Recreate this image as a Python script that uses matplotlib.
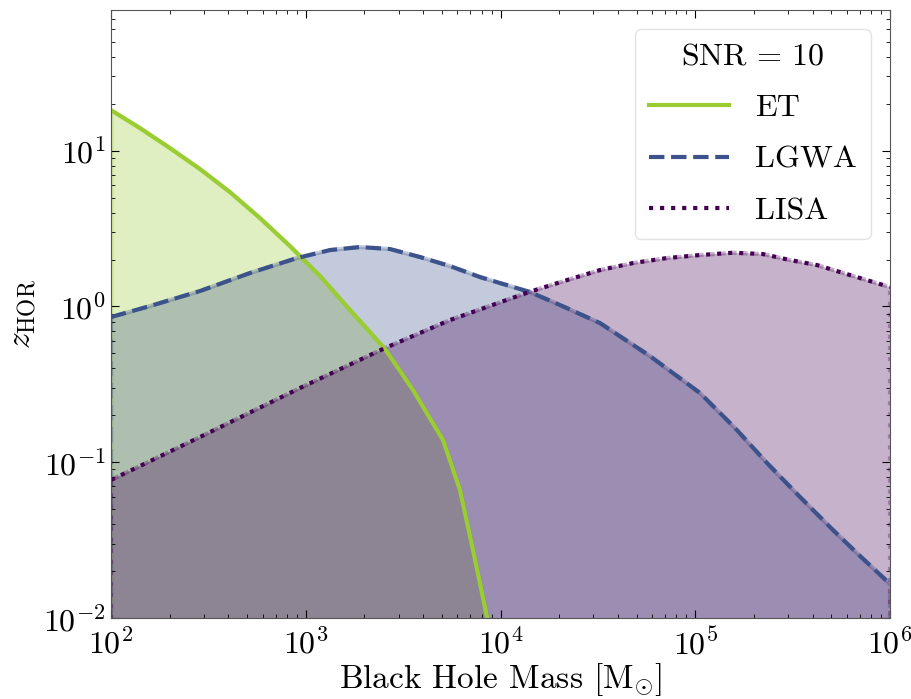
import numpy as np
import matplotlib
matplotlib.use("Agg")
import matplotlib.pyplot as plt

plt.rcParams.update({
    "font.family": "serif",
    "font.serif": ["cmr10"],
    "mathtext.fontset": "cm",
    "axes.formatter.use_mathtext": True,
    "axes.unicode_minus": False,
})

# Horizon redshift at SNR = 10 versus black-hole mass [M_sun]
et_mass = [100, 140.9, 200.9, 286.4, 408.3, 582.3, 830, 1184, 1688, 2553,
           3554, 5068, 6194, 7225, 8525, 8830]
et_z = [18.22, 13.96, 10.39, 7.62, 5.42, 3.69, 2.44, 1.567, 0.948, 0.533,
        0.2906, 0.1388, 0.0663, 0.0273, 0.01015, 0.008]

lgwa_mass = [100, 158.6, 286.4, 517.3, 902, 1332, 1899, 2708, 3860, 5505,
             7849, 14170, 20210, 32430, 58560, 105800, 160000, 233600,
             345000, 509700, 701500, 1000000]
lgwa_z = [0.855, 1.006, 1.256, 1.639, 2.045, 2.301, 2.406, 2.336, 2.076, 1.816,
          1.544, 1.237, 1.021, 0.782, 0.480, 0.278, 0.1658, 0.0988,
          0.0598, 0.0367, 0.0250, 0.01653]

lisa_mass = [100, 286.4, 934.3, 2553, 5505, 14170, 21950, 32430, 47910, 71600,
             105800, 156200, 222800, 306600, 421900, 623100, 1000000]
lisa_z = [0.0769, 0.1451, 0.2995, 0.5408, 0.818, 1.243, 1.477, 1.712, 1.899, 2.045,
          2.138, 2.212, 2.169, 1.985, 1.844, 1.590, 1.332]

labels = ["ET", "LGWA", "LISA"]
colors = ["#9acd32", "#3b528b", "#440154"]
styles = ["-", "--", ":"]

fig = plt.figure(figsize=(9.12, 6.99), dpi=100)
ax = fig.add_axes([0.1217, 0.1159, 0.8542, 0.8698])

series = [(et_mass, et_z), (lgwa_mass, lgwa_z), (lisa_mass, lisa_z)]
for (m, z), lab, c, ls in zip(series, labels, colors, styles):
    ax.fill_between(m, z, 1e-3, color=c, alpha=0.3, linestyle=ls, linewidth=3)
    ax.plot(m, z, color=c, linestyle=ls, linewidth=3, label=lab)

ax.set_xscale("log")
ax.set_yscale("log")
ax.set_xlim(1e2, 1e6)
ax.set_ylim(1e-2, 80)

ax.tick_params(which="both", direction="in", top=True, right=True, labelsize=23)
ax.tick_params(which="major", length=6, width=0.8)
ax.tick_params(which="minor", length=3, width=0.6)
ax.tick_params(axis="x", pad=7)
for s in ax.spines.values():
    s.set_color("#555555")

ax.set_xlabel(r"Black Hole Mass [$\mathrm{M}_{\odot}$]", fontsize=24, labelpad=1)
ax.set_ylabel(r"$z_{\mathrm{HOR}}$", fontsize=24, labelpad=4)

leg = ax.legend(title=r"$\mathrm{SNR}\,=\,10$", loc="upper right", fontsize=23,
                title_fontsize=23, handlelength=2.5, borderaxespad=0.6,
                labelspacing=0.72, borderpad=0.45, handletextpad=0.8,
                fancybox=True, framealpha=0.8)
leg.get_frame().set_edgecolor("#dddddd")

fig.savefig("out.png", dpi=100)
